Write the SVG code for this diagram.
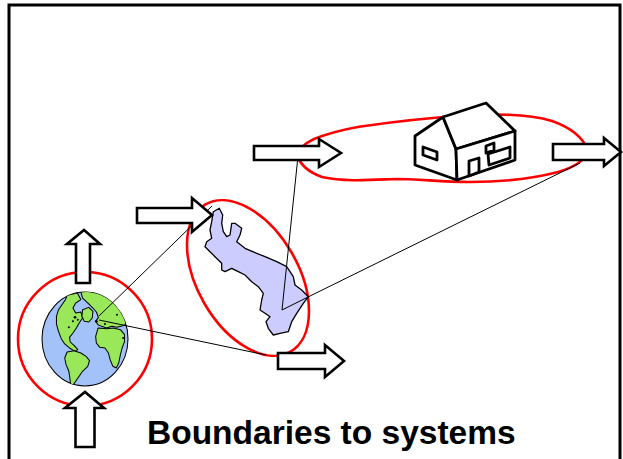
<svg xmlns="http://www.w3.org/2000/svg" width="623" height="459" viewBox="0 0 623 459">
<style>
.bound{fill:none;stroke:#ff0000;stroke-width:2.6}
.arrow{fill:#ffffff;stroke:#000000;stroke-width:2.6;stroke-linejoin:miter}
.conn{fill:none;stroke:#000000;stroke-width:1}
.land{fill:#99e85a;stroke:#000000;stroke-width:3;stroke-linejoin:round}
.speck{fill:#000000}
.house{fill:#ffffff;stroke:#000000;stroke-width:2.8;stroke-linejoin:round}
.title{font-family:"Liberation Sans",Arial,sans-serif;font-weight:bold;font-size:33.5px;fill:#000000}
</style>
<defs>
<clipPath id="globeClip"><ellipse cx="147" cy="153" rx="125" ry="141"/></clipPath>
</defs>
<rect width="623" height="459" fill="#ffffff"/>
<rect id="frame" x="9" y="5" width="611" height="470" fill="none" stroke="#000000" stroke-width="3"/>

<g id="globe-system">
<circle class="bound" cx="85" cy="339" r="67"/>
<g id="globe" transform="translate(85,339) scale(0.344,0.333) translate(-147,-153)">
<ellipse cx="147" cy="153" rx="125" ry="141" fill="#a4c2fa" stroke="#000000" stroke-width="3"/>
<g clip-path="url(#globeClip)">
<polygon class="land" points="95,22 125,15 135,35 120,45 112,60 120,75 135,72 140,90 130,105 122,120 112,135 102,148 104,162 115,172 126,185 118,190 102,180 88,168 78,152 70,130 64,108 64,85 70,65 80,50 90,35"/>
<polygon class="land" points="135,12 200,5 240,18 258,40 270,70 272,95 262,112 240,118 225,115 210,120 195,115 185,110 178,100 186,88 180,72 170,60 160,50 150,40 140,30"/>
<polygon class="land" points="140,65 158,58 170,70 168,90 158,102 145,100 138,85"/>
<polygon class="land" points="185,120 210,122 230,120 250,125 262,140 262,160 255,180 250,200 245,225 238,240 228,235 220,215 215,195 205,180 190,178 180,165 178,145"/>
<polygon class="land" points="95,192 115,188 135,195 150,205 160,218 155,235 140,250 130,265 120,280 112,292 105,290 103,270 100,250 92,230 88,210"/>
<circle class="speck" cx="118" cy="88" r="4"/>
<circle class="speck" cx="126" cy="95" r="3"/>
<circle class="speck" cx="112" cy="100" r="3"/>
<circle class="speck" cx="100" cy="118" r="3"/>
<circle class="speck" cx="180" cy="100" r="4"/>
<circle class="speck" cx="205" cy="108" r="3"/>
<circle class="speck" cx="240" cy="80" r="3"/>
<circle class="speck" cx="258" cy="150" r="3"/>
</g>
</g>
</g>

<g id="map-system">
<ellipse class="bound" cx="248" cy="278" rx="85" ry="50.5" transform="rotate(60 248 278)"/>
<polygon id="map" fill="#ccccff" stroke="#000000" stroke-width="1.3" stroke-linejoin="round" points="213.3,211.7 219.3,208.3 222.7,215 221.7,223.3 223.3,231.7 226.7,236.7 230,235 231.7,223.3 235,223.3 241.7,228.3 240,235 236.7,241.7 245,248.3 256.7,253.3 265,256.7 276.7,261.7 286.7,266.7 293.3,276.7 295,285 301.7,290 308.3,296.7 303.3,303.3 296.7,313.3 291.7,321.7 288.3,331.7 280,333.3 273.3,335 268.3,328.3 266,321.7 270,316.7 265,313.3 260,310 261.7,300 263.3,293.3 258.3,286.7 251.7,281.7 245,275 238.3,271.7 231.7,268.3 225,271.7 221.7,270 221.7,263.3 215,256.7 210,251.7 205,246.7 206.7,241.7 211.7,238.3 210,230 211.7,221.7"/>
</g>

<g id="house-system">
<path class="bound" d="M297,153 C303,144 312,139 322,136 C340,130 355,127 372,125 C400,121 430,118 455,116 C490,114 525,113 552,121 C572,128 583,138 588,150 C586,160 575,167 558,172 C535,178 505,182 470,182 C440,182 420,179 395,179 C370,180 345,182 322,177 C308,172 300,164 297,155 Z"/>
<g id="house">
<polygon class="house" points="415,136 443,117 456,149 457,180 415,165"/>
<polygon class="house" points="443,117 486,103 515,131 456,149"/>
<polygon class="house" points="456,149 515,131 515,160 457,180"/>
<polygon class="house" points="423,147 437,152 437,160 423,155"/>
<polygon class="house" points="486,146 494,143 494,150 486,153"/>
<polygon class="house" points="469,161 479,158 479,172 469,176"/>
<polygon class="house" points="488,154 510,147 510,158 489,165"/>
</g>
</g>

<g id="connectors">
<line class="conn" x1="99" y1="316" x2="212" y2="206"/>
<line class="conn" x1="99" y1="320" x2="266" y2="355"/>
<line class="conn" x1="282" y1="310" x2="298" y2="156"/>
<line class="conn" x1="282" y1="310" x2="308" y2="297"/>
<line class="conn" x1="308" y1="297" x2="580" y2="163"/>
</g>

<g id="arrows">
<polygon id="arrow-house-in" class="arrow" points="254,146 319,146 319,139 341,153 319,167 319,160 254,160"/>
<polygon id="arrow-house-out" class="arrow" points="553,144 604,144 604,138 621,152 604,166 604,160 553,160"/>
<polygon id="arrow-map-in" class="arrow" points="137,208 192,208 192,198 212,215 192,232 192,223 137,223"/>
<polygon id="arrow-map-out" class="arrow" points="278,353 325,353 325,345 344,361 325,377 325,369 278,369"/>
<polygon id="arrow-globe-out" class="arrow" points="76,283 76,244 67,244 84,230 100,244 90,244 90,283"/>
<polygon id="arrow-globe-in" class="arrow" points="75.5,447 75.5,408 65,408 85,392 104,408 94.5,408 94.5,447"/>
</g>

<text id="title" class="title" x="147" y="444">Boundaries to systems</text>
</svg>
